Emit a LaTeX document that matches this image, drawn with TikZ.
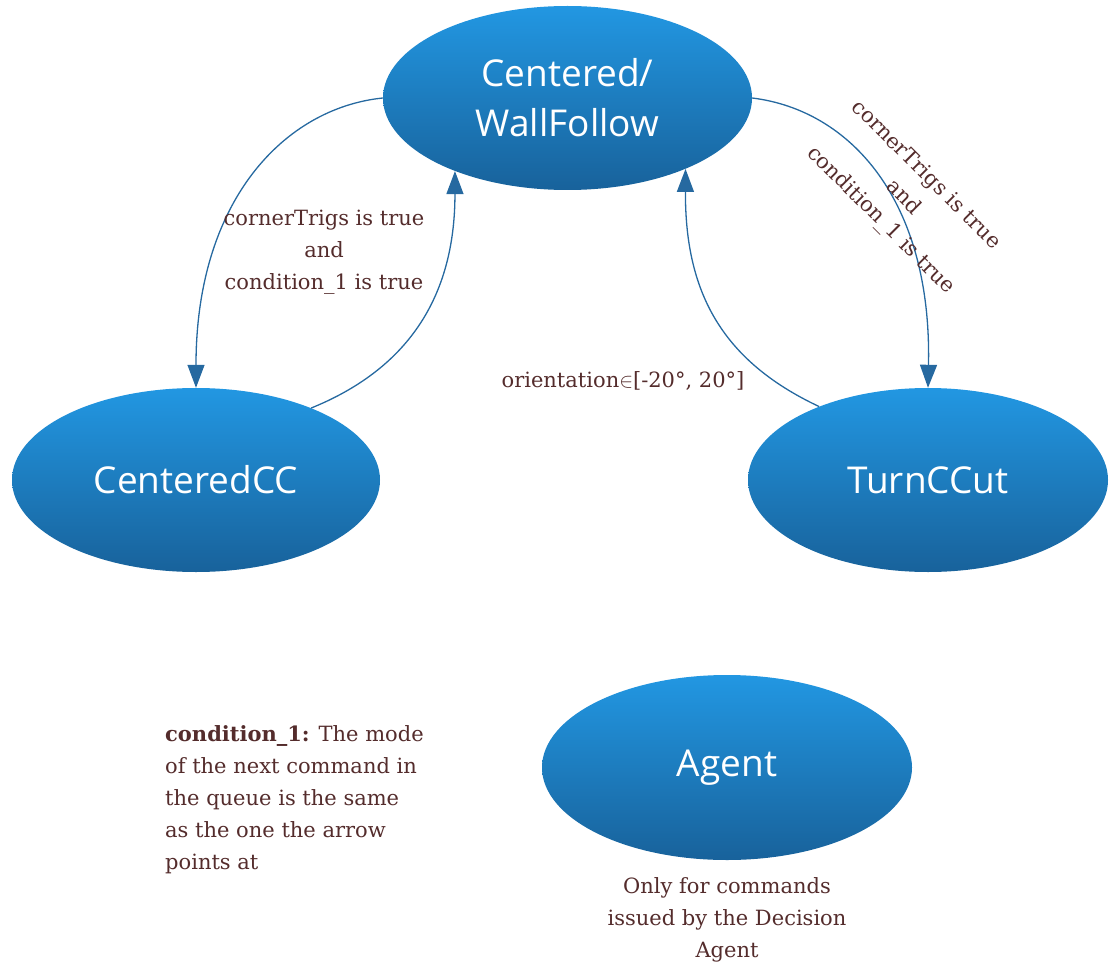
\documentclass[tikz,border=0pt]{standalone}
\usepackage{fontspec}
\setmainfont{DejaVu Serif}
\newfontfamily\statefont{Open Sans}
\usetikzlibrary{shapes.geometric,arrows.meta}
\definecolor{stateTop}{RGB}{34,151,226}
\definecolor{stateBot}{RGB}{24,98,155}
\definecolor{edge}{RGB}{38,105,160}
\definecolor{labelbrown}{RGB}{84,44,44}
\begin{document}
\begin{tikzpicture}[x=1pt,y=1pt,
  state/.style={ellipse, inner sep=0pt, draw=none,
    top color=stateTop, bottom color=stateBot, text=white,
    font=\statefont\fontsize{37}{50}\selectfont, align=center},
  trans/.style={draw=edge, line width=1.3pt,
    -{Triangle[length=23pt,width=17pt]}},
  lbl/.style={text=labelbrown, font=\fontsize{21}{32}\selectfont,
    align=center, inner sep=0pt}]
\useasboundingbox (0,0) rectangle (1110,-968);

% states
\node[state, minimum width=369pt, minimum height=184pt] (wf) at (567.5,-98) {Centered/\\WallFollow};
\node[state, minimum width=368pt, minimum height=184pt] (cc) at (196,-480) {CenteredCC};
\node[state, minimum width=360pt, minimum height=184pt] (tc) at (928,-480) {TurnCCut};
\node[state, minimum width=370pt, minimum height=185pt] (ag) at (727,-767.5) {Agent};

% transitions
\draw[trans] (wf.west) .. controls (285,-108) and (196,-200) .. (cc.north);
\draw[trans] (cc.32) .. controls (405,-370) and (455,-300) .. (wf.-147);
\draw[trans] (tc.146) .. controls (720,-360) and (685,-290) .. (wf.-31.5);
\draw[trans] (wf.east) .. controls (850,-110) and (932,-200) .. (tc.north);

% transition labels
\node[lbl] (lcc) at (324,-252) {cornerTrigs is true\\and\\condition\_1 is true};
\node[lbl, rotate=-45] (ltc) at (903,-198) {cornerTrigs is true\\and\\condition\_1 is true};
\node[lbl] (lor) at (623,-381) {orientation$\in$[-20°, 20°]};

% notes
\node[lbl, anchor=west, align=left] (note) at (165,-800) {\textbf{condition\_1:} The mode\\of the next command in\\the queue is the same\\as the one the arrow\\points at};
\node[lbl] (agnote) at (727,-920) {Only for commands\\issued by the Decision\\Agent};
\end{tikzpicture}
\end{document}
